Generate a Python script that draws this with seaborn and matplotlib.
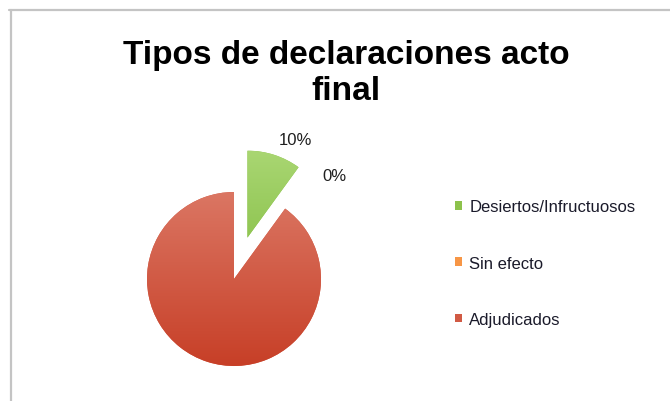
import matplotlib
matplotlib.use("Agg")
import matplotlib.pyplot as plt
from matplotlib.lines import Line2D
import numpy as np
import seaborn as sns

sns.set_theme(style="white")
plt.rcParams['font.family'] = ['Liberation Sans', 'DejaVu Sans']

# data
categories = ['Desiertos/Infructuosos', 'Sin efecto', 'Adjudicados']
shares = [10, 0, 90]
pct_labels = ['10%', '0%', '']
colors = ['#8DC24C', '#F79646', '#D15A44']
grad_top = ['#A9D672', '#F9A866', '#DB7663']
grad_bottom = ['#77B534', '#F08A30', '#C73F27']
explode = [0.5, 0.0, 0.0]

fig = plt.figure(figsize=(6.70, 4.02), dpi=100)
fig.patch.set_facecolor('white')

# frame (top + left edges only, the rest is cropped)
fig.add_artist(Line2D([9 / 670, 1], [1 - 10.5 / 402, 1 - 10.5 / 402],
                      transform=fig.transFigure, color='#C4C4C4', lw=1.6))
fig.add_artist(Line2D([10.5 / 670, 10.5 / 670], [0, 1 - 10.5 / 402],
                      transform=fig.transFigure, color='#C4C4C4', lw=1.6))

fig.text(346 / 670, 1 - 100 / 402, 'Tipos de declaraciones acto\nfinal',
         ha='center', va='baseline', fontsize=24, fontweight='bold',
         color='black', linespacing=1.22)

# pie axes: square, centred on the unexploded pie centre
r_px = 87
cx, cy = 234, 280
half = 1.6 * r_px
ax = fig.add_axes([(cx - half) / 670, 1 - (cy + half) / 402,
                   2 * half / 670, 2 * half / 402])
ax.set_xlim(-1.6, 1.6)
ax.set_ylim(-1.6, 1.6)
ax.set_aspect('equal')
ax.axis('off')

wedges, _ = ax.pie(shares, colors=colors, explode=explode, startangle=90,
                   counterclock=False, radius=1.0,
                   wedgeprops=dict(linewidth=0))

# vertical gradient inside each wedge
for w, top, bot in zip(wedges, grad_top, grad_bottom):
    if w.theta2 - w.theta1 <= 0:
        continue
    cmap = matplotlib.colors.LinearSegmentedColormap.from_list('g', [bot, top])
    cxw, cyw = w.center
    grad = np.linspace(0, 1, 256).reshape(-1, 1)
    im = ax.imshow(grad, cmap=cmap, origin='lower', aspect='auto',
                   extent=[cxw - 1, cxw + 1, cyw - 1, cyw + 1], zorder=2)
    im.set_clip_path(w)

# percentage labels
label_pos = [(0.71, 1.609), (1.16, 1.195)]
for txt, (lx, ly) in zip(pct_labels, label_pos):
    ax.text(lx, ly, txt, ha='center', va='center', fontsize=12,
            color='#1F1F1F', clip_on=False)

ax.set_xlim(-1.6, 1.6)
ax.set_ylim(-1.6, 1.6)

leg = fig.legend(wedges, categories, loc='upper left',
                 bbox_to_anchor=(447 / 670, 1 - 192 / 402),
                 frameon=False, fontsize=12, handlelength=0.42,
                 handleheight=0.42, handletextpad=0.42, labelspacing=2.48,
                 borderpad=0.0)
for t in leg.get_texts():
    t.set_color('#1A1A2A')

fig.savefig('out.png', dpi=100)
